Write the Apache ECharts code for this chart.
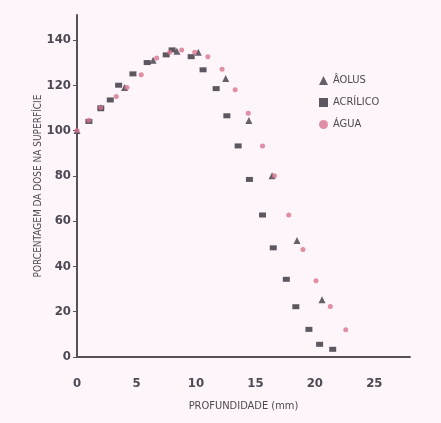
<!DOCTYPE html>
<html>
<head>
<meta charset="utf-8">
<script src="https://cdn.jsdelivr.net/npm/echarts@6/dist/echarts.min.js"></script>
<style>
  html, body { margin: 0; padding: 0; background: #fdf5f9; }
  #chart { width: 441px; height: 423px; }
</style>
</head>
<body>
<div id="chart"></div>
<script>
// dados: [profundidade (mm), % da dose na superfície]
const aolus = [[0, 100], [2, 110], [4, 119], [6.4, 131], [8.4, 135], [10.2, 134.6], [12.5, 123], [14.45, 104.4], [16.4, 80], [18.5, 51.4], [20.6, 25.3]];
const acrilico = [[1, 104], [2, 110], [2.8, 113.5], [3.5, 120], [4.7, 125], [5.9, 130], [7.5, 133.4], [8, 135.6], [9.6, 132.6], [10.6, 126.8], [11.7, 118.5], [12.6, 106.5], [13.55, 93.2], [14.5, 78.4], [15.6, 62.7], [16.5, 48.2], [17.6, 34.3], [18.4, 22.2], [19.5, 12.2], [20.4, 5.6], [21.5, 3.4]];
const agua = [[0, 100], [1, 104.5], [2, 110], [3.3, 115], [4.2, 119], [5.4, 124.6], [6.7, 132], [7.8, 134.5], [8.8, 135.5], [9.9, 134.5], [11, 132.6], [12.2, 127], [13.3, 118], [14.4, 107.6], [15.6, 93.2], [16.6, 80], [17.8, 62.7], [19, 47.5], [20.1, 33.7], [21.3, 22.3], [22.6, 12]];

const xTicks = [0, 5, 10, 15, 20, 25];
const yTicks = [0, 20, 40, 60, 80, 100, 120, 140];

const textColor = '#4d4954';
const fontFam = '"DejaVu Sans Condensed", "Liberation Sans Narrow", sans-serif';

const chart = echarts.init(document.getElementById('chart'));

chart.setOption({
  backgroundColor: '#fdf5f9',
  animation: false,
  grid: { left: 77, right: 31, top: 15, bottom: 66 },
  legend: {
    orient: 'vertical',
    left: 314,
    top: 70,
    itemWidth: 9,
    itemHeight: 9,
    itemGap: 11,
    textStyle: { color: textColor, fontFamily: fontFam, fontSize: 11 },
    data: [
      { name: 'ÂOLUS', icon: 'triangle' },
      { name: 'ACRÍLICO', icon: 'rect' },
      { name: 'ÁGUA', icon: 'circle' }
    ]
  },
  xAxis: {
    type: 'value',
    min: 0,
    max: 28,
    name: 'PROFUNDIDADE (mm)',
    nameLocation: 'middle',
    nameGap: 44,
    nameTextStyle: { color: textColor, fontFamily: fontFam, fontSize: 11 },
    axisLine: { lineStyle: { color: '#55525a', width: 2 } },
    axisTick: { show: false },
    axisLabel: {
      customValues: xTicks,
      margin: 20,
      color: textColor,
      fontFamily: fontFam,
      fontWeight: 'bold',
      fontSize: 13
    },
    splitLine: { show: false }
  },
  yAxis: {
    type: 'value',
    min: 0,
    max: 151,
    name: 'PORCENTAGEM DA DOSE NA SUPERFÍCIE',
    nameLocation: 'middle',
    nameGap: 34,
    nameMoveOverlap: false,
    nameTextStyle: { color: textColor, fontFamily: fontFam, fontSize: 10 },
    axisLine: { lineStyle: { color: '#55525a', width: 2 } },
    axisTick: { customValues: yTicks, length: 4, lineStyle: { color: '#55525a' } },
    axisLabel: {
      customValues: yTicks,
      margin: 6,
      color: textColor,
      fontFamily: fontFam,
      fontWeight: 'bold',
      fontSize: 13
    },
    splitLine: { show: false }
  },
  series: [
    {
      name: 'ÂOLUS',
      type: 'scatter',
      symbol: 'triangle',
      symbolSize: 7,
      itemStyle: { color: '#3d3a45' },
      data: aolus
    },
    {
      name: 'ACRÍLICO',
      type: 'scatter',
      symbol: 'rect',
      symbolSize: [7, 5],
      itemStyle: { color: '#33303a' },
      data: acrilico
    },
    {
      name: 'ÁGUA',
      type: 'scatter',
      symbol: 'circle',
      symbolSize: 5,
      itemStyle: { color: '#d9748f' },
      data: agua
    }
  ]
});
</script>
</body>
</html>
